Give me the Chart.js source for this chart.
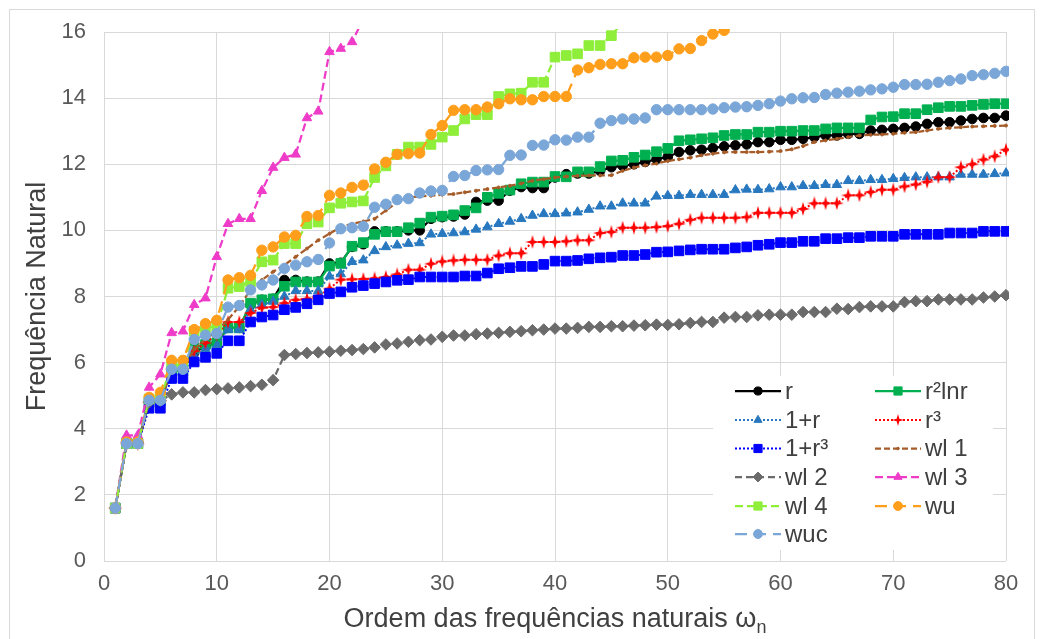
<!DOCTYPE html>
<html><head><meta charset="utf-8">
<script src="https://cdn.jsdelivr.net/npm/chart.js@4.4.1/dist/chart.umd.min.js"></script>
<style>
html,body{margin:0;padding:0;background:#fff;}
#wrap{position:absolute;left:0;top:0;width:1043px;height:639px;overflow:hidden;}
#frame{position:absolute;left:9px;top:9px;width:1026px;height:640px;border:1px solid #d9d9d9;box-sizing:border-box;}
canvas{position:absolute;left:0;top:0;}
</style>
</head><body><div id="wrap"><div id="frame"></div><canvas id="c" width="1043" height="639"></canvas></div>
<script>
// ---- data ----
const order = [1,2,3,4,5,6,7,8,9,10,11,12,13,14,15,16,17,18,19,20,21,22,23,24,25,26,27,28,29,30,31,32,33,34,35,36,37,38,39,40,41,42,43,44,45,46,47,48,49,50,51,52,53,54,55,56,57,58,59,60,61,62,63,64,65,66,67,68,69,70,71,72,73,74,75,76,77,78,79,80];
const seriesNames = ['r','r²lnr','1+r','r³','1+r³','wl 1','wl 2','wl 3','wl 4','wu','wuc'];
const r = [1.6,3.55,3.55,4.8,4.85,5.8,5.8,6.3,6.5,6.6, 7.05,7.05,7.75,7.9,7.93,8.5,8.5,8.45,8.45,9.0, 9.02,9.5,9.58,9.97,9.97,9.97,10.0,10.0,10.35,10.4, 10.42,10.48,10.86,10.9,10.9,11.2,11.31,11.28,11.28,11.6, 11.7,11.72,11.72,11.8,11.91,11.95,12.0,12.07,12.15,12.22, 12.37,12.42,12.44,12.49,12.54,12.57,12.6,12.67,12.67,12.74, 12.74,12.77,12.82,12.87,12.87,12.92,12.92,13.02,13.04,13.07, 13.1,13.14,13.22,13.27,13.27,13.32,13.37,13.4,13.4,13.47];
const r2lnr = [1.6,3.55,3.55,4.8,4.85,5.75,5.75,6.45,6.55,6.6, 7.05,7.05,7.8,7.9,7.93,8.31,8.44,8.44,8.44,8.92, 9.0,9.52,9.63,9.88,9.96,9.96,10.08,10.22,10.4,10.43, 10.47,10.6,10.68,11.0,11.12,11.22,11.41,11.46,11.46,11.63, 11.62,11.77,11.77,11.93,12.1,12.12,12.21,12.28,12.38,12.48, 12.71,12.74,12.77,12.8,12.87,12.9,12.9,12.97,12.97,13.0, 13.0,13.02,13.02,13.07,13.1,13.1,13.1,13.34,13.43,13.44, 13.53,13.53,13.65,13.71,13.75,13.75,13.78,13.81,13.83,13.83];
const onePlusR = [1.6,3.55,3.55,4.75,4.8,5.7,5.7,6.2,6.4,6.5, 7.0,7.0,7.6,7.75,7.85,8.0,8.17,8.17,8.17,8.61, 8.68,9.05,9.1,9.38,9.5,9.55,9.6,9.62,9.88,9.9, 9.92,9.95,10.03,10.1,10.2,10.27,10.35,10.45,10.5,10.5, 10.52,10.55,10.63,10.73,10.73,10.82,10.82,10.82,11.03,11.05, 11.05,11.08,11.08,11.08,11.08,11.22,11.24,11.23,11.25,11.31, 11.31,11.35,11.35,11.38,11.38,11.5,11.5,11.53,11.53,11.56, 11.59,11.61,11.61,11.61,11.61,11.69,11.69,11.69,11.71,11.73];
const rCubed = [1.6,3.55,3.55,4.8,4.85,5.8,5.8,6.35,6.6,6.85, 7.23,7.23,7.5,7.66,7.68,7.8,7.9,7.93,8.0,8.24, 8.51,8.52,8.53,8.55,8.59,8.67,8.81,8.81,8.99,9.06, 9.09,9.11,9.11,9.11,9.24,9.31,9.31,9.65,9.65,9.65, 9.67,9.7,9.7,9.92,9.95,10.08,10.08,10.08,10.1,10.13, 10.2,10.32,10.38,10.38,10.38,10.38,10.4,10.53,10.53,10.53, 10.53,10.65,10.82,10.82,10.82,11.06,11.06,11.16,11.23,11.23, 11.33,11.39,11.47,11.61,11.61,11.91,12.0,12.14,12.24,12.44];
const onePlusRCubed = [1.6,3.55,3.55,4.62,4.62,5.52,5.52,6.02,6.16,6.28, 6.66,6.66,7.23,7.38,7.44,7.6,7.67,7.78,7.9,8.09, 8.14,8.28,8.33,8.39,8.44,8.49,8.51,8.59,8.59,8.59, 8.59,8.62,8.62,8.71,8.84,8.87,8.91,8.91,8.97,9.07, 9.07,9.09,9.14,9.17,9.19,9.24,9.24,9.27,9.34,9.35, 9.38,9.41,9.43,9.43,9.43,9.47,9.5,9.55,9.58,9.63, 9.63,9.67,9.67,9.75,9.75,9.78,9.78,9.82,9.82,9.82, 9.88,9.88,9.88,9.88,9.92,9.92,9.92,9.97,9.97,9.97];
const wl1 = [1.6,3.55,3.55,4.8,4.85,5.8,5.85,6.4,6.7,6.95, 7.3,7.7,8.2,8.5,8.75,8.95,9.2,9.45,9.7,9.9, 10.1,10.2,10.27,10.35,10.6,10.85,11.0,11.03,11.05,11.08, 11.1,11.15,11.2,11.25,11.3,11.35,11.42,11.5,11.55,11.6, 11.63,11.65,11.66,11.66,11.67,11.8,11.9,11.97,12.02,12.1, 12.15,12.2,12.27,12.32,12.36,12.37,12.37,12.37,12.38,12.4, 12.45,12.55,12.67,12.72,12.77,12.82,12.87,12.89,12.9,12.92, 12.95,12.97,13.02,13.07,13.1,13.12,13.14,13.15,13.16,13.17];
const wl2 = [1.6,3.6,3.6,4.8,4.85,5.04,5.1,5.1,5.17,5.2, 5.22,5.25,5.29,5.33,5.47,6.23,6.26,6.29,6.31,6.33, 6.36,6.38,6.41,6.46,6.55,6.58,6.63,6.68,6.7,6.78, 6.82,6.82,6.86,6.88,6.9,6.93,6.95,6.98,7.0,7.03, 7.03,7.05,7.08,7.08,7.1,7.1,7.12,7.13,7.15,7.14, 7.16,7.2,7.23,7.23,7.36,7.38,7.38,7.43,7.45,7.45, 7.45,7.53,7.53,7.53,7.63,7.62,7.68,7.7,7.7,7.7, 7.83,7.86,7.86,7.91,7.91,7.91,7.91,7.97,8.0,8.04];
const wl3 = [1.6,3.8,3.8,5.25,5.65,6.9,6.95,7.75,7.95,9.2, 10.2,10.35,10.35,11.2,11.9,12.2,12.3,13.4,13.6,15.4, 15.5,15.7,16.4];
const wl4 = [1.6,3.55,3.55,4.9,4.95,5.9,5.95,6.95,7.05,7.1, 8.25,8.3,8.45,9.05,9.1,9.6,9.6,10.2,10.25,10.68, 10.82,10.86,10.89,11.6,11.95,12.3,12.52,12.52,12.6,12.82, 13.02,13.37,13.5,13.5,14.05,14.13,14.15,14.48,14.48,15.24, 15.29,15.34,15.59,15.59,15.89,16.3];
const wu = [1.6,3.6,3.6,4.95,5.1,6.07,6.07,7.0,7.18,7.28, 8.5,8.57,8.64,9.4,9.5,9.8,9.85,10.42,10.45,11.06, 11.13,11.3,11.37,11.86,12.06,12.3,12.32,12.34,12.9,13.17, 13.63,13.65,13.65,13.73,13.83,13.98,13.95,13.95,14.05,14.05, 14.05,14.85,14.92,15.02,15.04,15.04,15.22,15.24,15.24,15.29, 15.49,15.5,15.74,15.94,16.05,16.2];
const wuc = [1.6,3.55,3.55,4.86,4.86,5.8,5.8,6.7,6.83,6.88, 7.68,7.73,8.2,8.35,8.5,8.85,8.95,9.05,9.12,9.62, 10.05,10.08,10.12,10.7,10.79,10.93,10.96,11.13,11.19,11.21, 11.63,11.66,11.81,11.83,11.84,12.27,12.28,12.57,12.58,12.74, 12.73,12.82,12.82,13.24,13.32,13.37,13.37,13.4,13.65,13.65, 13.65,13.65,13.65,13.67,13.71,13.73,13.74,13.78,13.83,13.91, 13.98,14.01,14.02,14.11,14.15,14.18,14.21,14.25,14.28,14.33, 14.41,14.41,14.42,14.48,14.53,14.58,14.68,14.71,14.75,14.81];
const xTicks = [0,10,20,30,40,50,60,70,80];
const yTicks = [0,2,4,6,8,10,12,14,16];
const yTitle = 'Frequência Natural';
const xTitle = 'Ordem das frequências naturais ω';
const xTitleSub = 'n';

// ---- styling ----
const F = "'Liberation Sans', Arial, Helvetica, sans-serif";
function makeStar(color, size){
  const c = document.createElement('canvas'); c.width = c.height = size;
  const g = c.getContext('2d'); const m = size/2, R = size/2, ri = size*0.16;
  g.beginPath();
  for(let k=0;k<8;k++){ const a = -Math.PI/2 + k*Math.PI/4; const rad = (k%2===0)?R:ri; g.lineTo(m+rad*Math.cos(a), m+rad*Math.sin(a)); }
  g.closePath(); g.fillStyle = color; g.fill(); return c;
}
const starBig = makeStar('#ff0000', 14);
const starSmall = makeStar('#ff0000', 12);

const styles = [
  {c:'#000000', dash:[], w:2.25, ps:'circle', pr:4.8},
  {c:'#00b050', dash:[], w:2.25, ps:'rect', pr:6.8},
  {c:'#2878c0', dash:[2,2], w:2, ps:'triangle', pr:5.5},
  {c:'#ff0000', dash:[2,2], w:2, ps:starBig, pr:7, lps:starSmall},
  {c:'#0000ff', dash:[2,2], w:2, ps:'rect', pr:6.8},
  {c:'#a65c28', dash:[6,3], w:2.25, ps:'circle', pr:1.5},
  {c:'#6b6b6b', dash:[7,4], w:2.25, ps:'rectRot', pr:5.8},
  {c:'#ee3cc8', dash:[8,4], w:2.25, ps:'triangle', pr:5.5},
  {c:'#8eee3a', dash:[8,4], w:2.25, ps:'rect', pr:6.8},
  {c:'#ff9e1b', dash:[12,7], w:2.25, ps:'circle', pr:5.2},
  {c:'#7aa6d8', dash:[12,7], w:2.25, ps:'circle', pr:5.2},
];
const seriesData = [r, r2lnr, onePlusR, rCubed, onePlusRCubed, wl1, wl2, wl3, wl4, wu, wuc];
const N = seriesData.length;
const datasets = seriesData.map((vals, i) => ({
  label: seriesNames[i],
  data: vals.map((v, k) => ({x: order[k], y: v})),
  borderColor: styles[i].c,
  backgroundColor: styles[i].c,
  borderWidth: styles[i].w,
  borderDash: styles[i].dash,
  pointStyle: styles[i].ps,
  pointRadius: styles[i].pr,
  pointBorderWidth: 1,
  pointBorderColor: styles[i].c,
  pointBackgroundColor: styles[i].c,
  tension: 0,
  order: N - i,
  clip: 3
}));

const legendPlugin = {
  id: 'boxLegend',
  afterDraw(chart){
    const ctx = chart.ctx;
    ctx.save();
    ctx.fillStyle = '#ffffff';
    ctx.fillRect(713, 376, 280, 174);
    const rowY = [391, 420, 448.5, 477, 506, 534];
    const colX = [735, 875];
    ctx.font = '24px ' + F;
    ctx.textBaseline = 'middle';
    chart.data.datasets.forEach((ds, i) => {
      const row = Math.floor(i/2), col = i%2;
      const y = rowY[row], x0 = colX[col], x1 = x0 + 46;
      ctx.save();
      ctx.strokeStyle = ds.borderColor; ctx.lineWidth = ds.borderWidth;
      ctx.setLineDash(ds.borderDash);
      ctx.beginPath(); ctx.moveTo(x0, y); ctx.lineTo(x1, y); ctx.stroke();
      ctx.restore();
      ctx.save();
      ctx.fillStyle = ds.pointBackgroundColor; ctx.strokeStyle = ds.pointBorderColor; ctx.lineWidth = 1;
      const st = styles[i];
      Chart.helpers.drawPoint(ctx, {pointStyle: st.lps || st.ps, radius: st.pr*0.85, borderWidth: 1, rotation: 0}, (x0+x1)/2, y);
      ctx.restore();
      ctx.fillStyle = '#404040';
      ctx.fillText(ds.label, x1 + 4, y + 1);
    });
    ctx.restore();
  }
};

const titlePlugin = {
  id: 'axisTitles',
  afterDraw(chart){
    const ctx = chart.ctx; const a = chart.chartArea;
    ctx.save();
    ctx.fillStyle = '#404040';
    ctx.font = '27px ' + F;
    ctx.textBaseline = 'middle';
    ctx.textAlign = 'center';
    ctx.save();
    ctx.translate(38, (a.top + a.bottom)/2);
    ctx.rotate(-Math.PI/2);
    ctx.fillText(yTitle, 0, 0);
    ctx.restore();
    const wMain = ctx.measureText(xTitle).width;
    ctx.font = '18px ' + F;
    const wSub = ctx.measureText(xTitleSub).width;
    const cx = (a.left + a.right)/2, cy = 620;
    const start = cx - (wMain + wSub)/2;
    ctx.textAlign = 'left';
    ctx.font = '27px ' + F;
    ctx.fillText(xTitle, start, cy);
    ctx.font = '18px ' + F;
    ctx.fillText(xTitleSub, start + wMain, cy + 8);
    ctx.restore();
  }
};

new Chart(document.getElementById('c'), {
  type: 'line',
  data: { datasets },
  options: {
    responsive: false,
    animation: false,
    layout: { padding: { left: 0, right: 37, top: 32, bottom: 0 } },
    plugins: { legend: { display: false }, tooltip: { enabled: false } },
    scales: {
      x: {
        type: 'linear', min: 0, max: 80,
        afterBuildTicks(s){ s.ticks = xTicks.map(v => ({value: v})); },
        ticks: { color: '#595959', font: { size: 22, family: F }, padding: 10, maxRotation: 0 },
        grid: { color: '#d9d9d9', drawTicks: false, lineWidth: 1 },
        border: { display: false },
        afterFit(s){ s.height = 78; }
      },
      y: {
        min: 0, max: 16,
        afterBuildTicks(s){ s.ticks = yTicks.map(v => ({value: v})); },
        ticks: { color: '#595959', font: { size: 22, family: F }, padding: 18 },
        grid: { color: '#d9d9d9', drawTicks: false, lineWidth: 1 },
        border: { display: false },
        afterFit(s){ s.width = 104; }
      }
    }
  },
  plugins: [legendPlugin, titlePlugin]
});
</script>
</body></html>
